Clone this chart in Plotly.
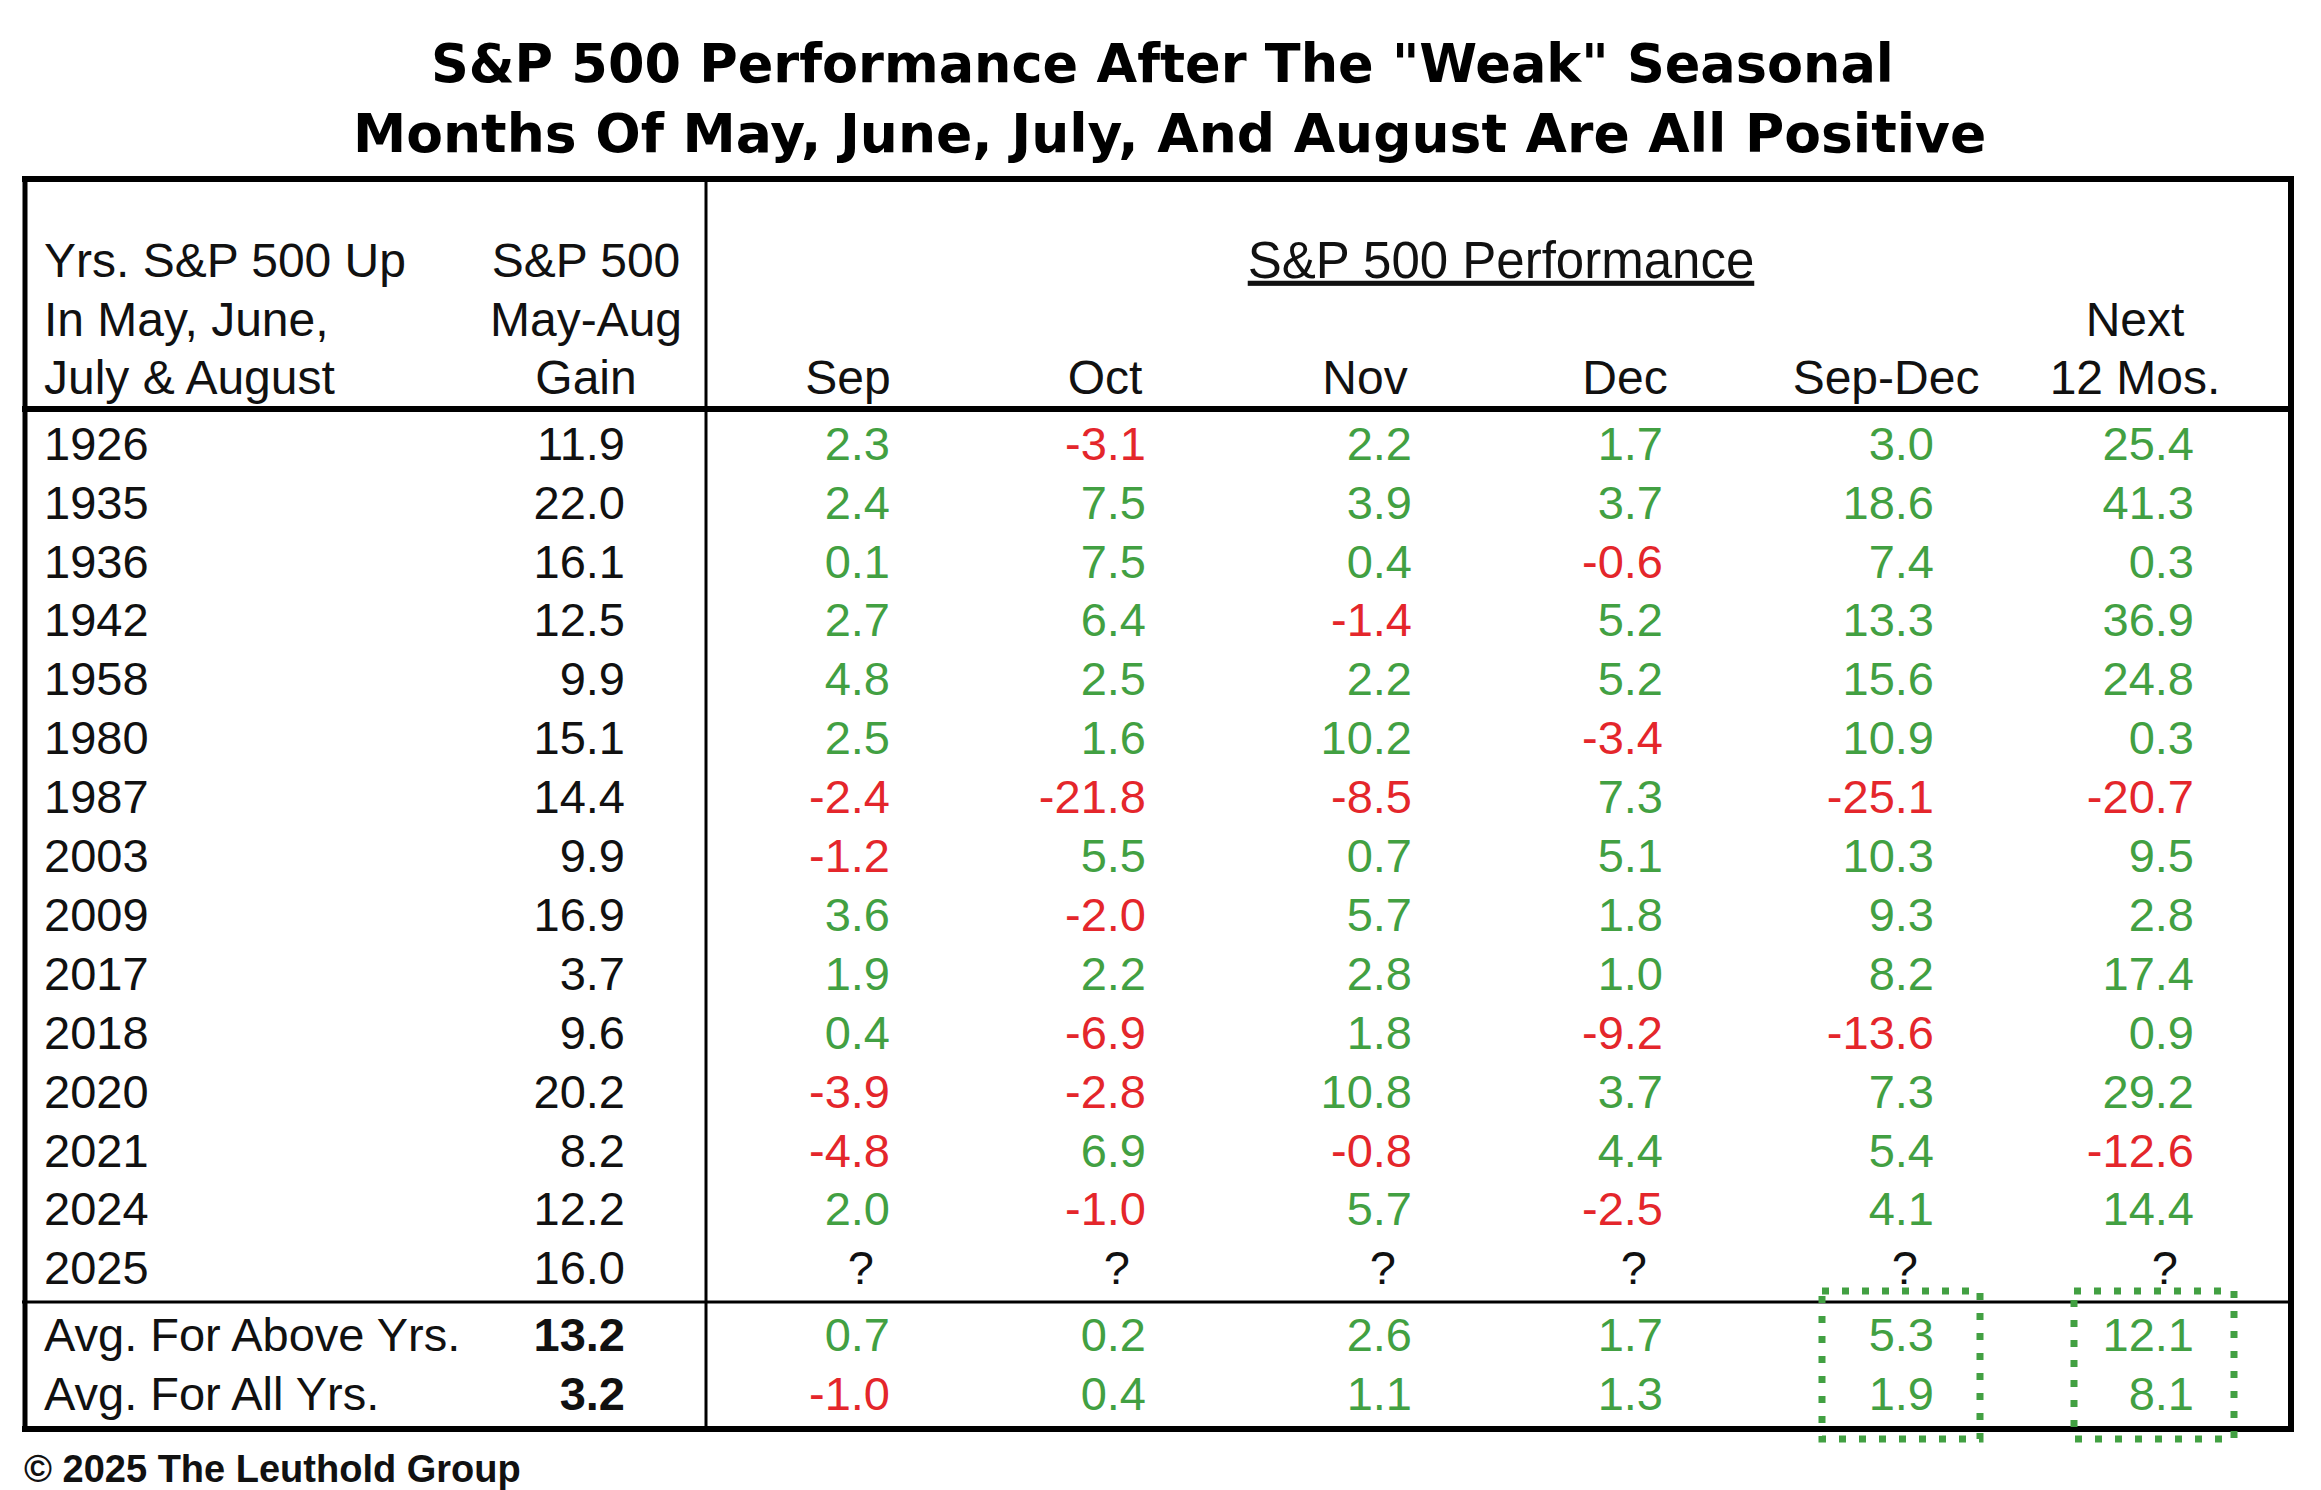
import plotly.graph_objects as go

years = ["1926", "1935", "1936", "1942", "1958", "1980", "1987", "2003",
         "2009", "2017", "2018", "2020", "2021", "2024", "2025"]
may_aug_gain = [11.9, 22.0, 16.1, 12.5, 9.9, 15.1, 14.4, 9.9, 16.9, 3.7, 9.6, 20.2, 8.2, 12.2, 16.0]
sep = [2.3, 2.4, 0.1, 2.7, 4.8, 2.5, -2.4, -1.2, 3.6, 1.9, 0.4, -3.9, -4.8, 2.0, None]
oct_ = [-3.1, 7.5, 7.5, 6.4, 2.5, 1.6, -21.8, 5.5, -2.0, 2.2, -6.9, -2.8, 6.9, -1.0, None]
nov = [2.2, 3.9, 0.4, -1.4, 2.2, 10.2, -8.5, 0.7, 5.7, 2.8, 1.8, 10.8, -0.8, 5.7, None]
dec = [1.7, 3.7, -0.6, 5.2, 5.2, -3.4, 7.3, 5.1, 1.8, 1.0, -9.2, 3.7, 4.4, -2.5, None]
sep_dec = [3.0, 18.6, 7.4, 13.3, 15.6, 10.9, -25.1, 10.3, 9.3, 8.2, -13.6, 7.3, 5.4, 4.1, None]
next_12 = [25.4, 41.3, 0.3, 36.9, 24.8, 0.3, -20.7, 9.5, 2.8, 17.4, 0.9, 29.2, -12.6, 14.4, None]

avg_labels = ["Avg. For Above Yrs.", "Avg. For All Yrs."]
avg_gain = [13.2, 3.2]
avg_sep = [0.7, -1.0]
avg_oct = [0.2, 0.4]
avg_nov = [2.6, 1.1]
avg_dec = [1.7, 1.3]
avg_sep_dec = [5.3, 1.9]
avg_next_12 = [12.1, 8.1]

perf_headers = ["Sep", "Oct", "Nov", "Dec", "Sep-Dec", "12 Mos."]

# ---- layout constants (pixel space of the picture) ----
W, H = 2321, 1490
GREEN = "#42a042"
RED = "#e4262b"
INK = "#111111"
FONT = "Liberation Sans, Arial, sans-serif"
FS = 47
HFS = 48
Q_SHIFT = 16  # "?" sits a little left of the number edge

row_y = [448 + 58.9 * i for i in range(len(years))]
avg_y = [1339, 1398]
head_y = [265, 324, 382]
year_x = 44
gain_x = 625
perf_right = [890, 1146, 1412, 1663, 1934, 2194]
perf_center = [848, 1105, 1365, 1625, 1886, 2135]

perf_cols = [sep, oct_, nov, dec, sep_dec, next_12]
avg_cols = [avg_sep, avg_oct, avg_nov, avg_dec, avg_sep_dec, avg_next_12]


def colour(v):
    if v is None:
        return INK
    return GREEN if v >= 0 else RED


def label(v):
    return "?" if v is None else f"{v:.1f}"


fig = go.Figure()

# year column
fig.add_trace(go.Scatter(
    x=[year_x] * len(years) + [year_x] * len(avg_labels),
    y=row_y + avg_y,
    text=years + avg_labels,
    mode="text", textposition="middle right",
    textfont=dict(family=FONT, size=FS, color=INK),
    hoverinfo="skip"
))

# May-Aug gain column
fig.add_trace(go.Scatter(
    x=[gain_x] * (len(years) + 2),
    y=row_y + avg_y,
    text=[label(v) for v in may_aug_gain] + [f"<b>{v:.1f}</b>" for v in avg_gain],
    mode="text", textposition="middle left",
    textfont=dict(family=FONT, size=FS, color=INK),
    hoverinfo="skip"
))

# performance columns
for xr, col, avg in zip(perf_right, perf_cols, avg_cols):
    vals = col + avg
    fig.add_trace(go.Scatter(
        x=[xr - Q_SHIFT if v is None else xr for v in vals],
        y=row_y + avg_y,
        text=[label(v) for v in vals],
        mode="text", textposition="middle left",
        textfont=dict(family=FONT, size=FS, color=[colour(v) for v in vals]),
        hoverinfo="skip"
    ))

# headers
head_text = ["Yrs. S&P 500 Up", "In May, June,", "July & August"]
fig.add_trace(go.Scatter(
    x=[year_x] * 3, y=head_y, text=head_text,
    mode="text", textposition="middle right",
    textfont=dict(family=FONT, size=HFS, color=INK), hoverinfo="skip"
))
fig.add_trace(go.Scatter(
    x=[586] * 3, y=head_y, text=["S&P 500", "May-Aug", "Gain"],
    mode="text", textposition="middle center",
    textfont=dict(family=FONT, size=HFS, color=INK), hoverinfo="skip"
))
fig.add_trace(go.Scatter(
    x=perf_center + [2135], y=[head_y[2]] * 6 + [head_y[1]],
    text=perf_headers + ["Next"],
    mode="text", textposition="middle center",
    textfont=dict(family=FONT, size=HFS, color=INK), hoverinfo="skip"
))
fig.add_trace(go.Scatter(
    x=[1501], y=[head_y[0]], text=["<u>S&P 500 Performance</u>"],
    mode="text", textposition="middle center",
    textfont=dict(family=FONT, size=51, color=INK), hoverinfo="skip"
))

# rules and borders
shapes = []
def hline(y, x0, x1, w):
    shapes.append(dict(type="line", x0=x0, x1=x1, y0=y, y1=y, xref="x", yref="y",
                       line=dict(color="#000000", width=w)))
def vline(x, y0, y1, w):
    shapes.append(dict(type="line", x0=x, x1=x, y0=y0, y1=y1, xref="x", yref="y",
                       line=dict(color="#000000", width=w)))

hline(179, 22, 2294, 6)
hline(409, 22, 2294, 6)
hline(1302, 22, 2294, 3)
hline(1429, 22, 2294, 6)
vline(25, 176, 1432, 5)
vline(2291, 176, 1432, 6)
vline(706, 179, 1429, 3)

# dotted highlight boxes
for x0, x1 in [(1822, 1980), (2074, 2234)]:
    shapes.append(dict(type="rect", x0=x0, x1=x1, y0=1291, y1=1439, xref="x", yref="y",
                       line=dict(color=GREEN, width=7, dash="7px,13px")))

fig.update_layout(
    width=W, height=H,
    margin=dict(l=0, r=0, t=0, b=0),
    paper_bgcolor="white", plot_bgcolor="white",
    showlegend=False,
    shapes=shapes,
    xaxis=dict(range=[0, W], visible=False, fixedrange=True),
    yaxis=dict(range=[H, 0], visible=False, fixedrange=True),
    annotations=[
        dict(text="<b>S&P 500 Performance After The \"Weak\" Seasonal</b>",
             x=1162, y=63, xref="x", yref="y", showarrow=False,
             font=dict(family="DejaVu Sans, sans-serif", size=52.5, color="#000000")),
        dict(text="<b>Months Of May, June, July, And August Are All Positive</b>",
             x=1169, y=133, xref="x", yref="y", showarrow=False,
             font=dict(family="DejaVu Sans, sans-serif", size=53.5, color="#000000")),
        dict(text="<b>© 2025 The Leuthold Group</b>",
             x=22, y=1469, xref="x", yref="y", xanchor="left", showarrow=False,
             font=dict(family=FONT, size=38, color="#111111")),
    ],
)

fig.write_html("out.html", config={"displayModeBar": False},
               post_script="document.body.style.margin='0';")
